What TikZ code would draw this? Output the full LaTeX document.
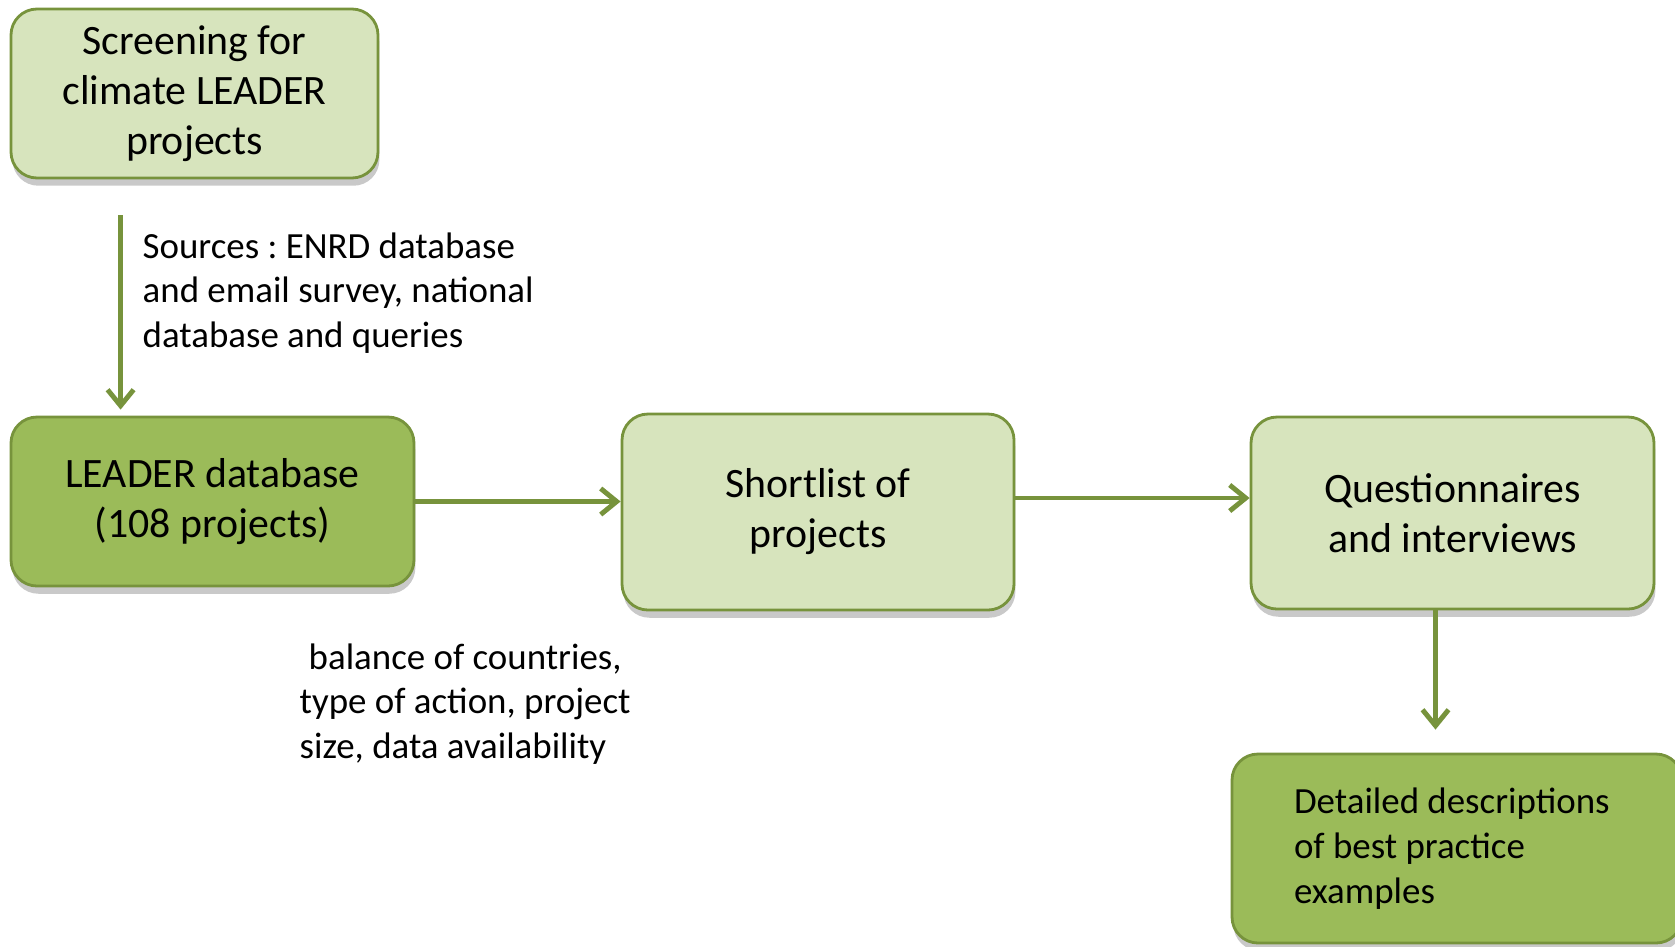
\documentclass[tikz,border=0pt]{standalone}
\usepackage{fontspec}
\setmainfont{Carlito}
\frenchspacing
\usetikzlibrary{arrows.meta,calc,shadows}
\definecolor{palegreen}{HTML}{D7E4BD}
\definecolor{olivegreen}{HTML}{9BBB59}
\definecolor{darkolive}{HTML}{77933C}

\begin{document}
\begin{tikzpicture}[
		box/.style={draw=darkolive, line width=0.8pt, rounded corners=0.26cm, align=center,
			font=\fontsize{11.9}{14.2}\selectfont, inner sep=0pt,
			drop shadow={shadow xshift=0.4pt, shadow yshift=-2.2pt, opacity=0.3, fill=black!70}},
		lightbox/.style={box, fill=palegreen},
		darkbox/.style={box, fill=olivegreen},
		flow/.style={draw=darkolive, line width=1.4pt, -{Straight Barb[length=0.16cm, width=0.26cm, line width=1.4pt]}},
		remark/.style={align=left, inner sep=0pt, font=\fontsize{10.5}{12.75}\selectfont}
	]
			%%%%% START %%%%%
			
			\useasboundingbox (0, 0) rectangle (16.75, -9.46);
			
			\node[lightbox, minimum width=3.67cm, minimum height=1.69cm] (screen) at (1.945, -0.935) {Screening for\\climate LEADER\\projects};
			\node[darkbox, minimum width=4.03cm, minimum height=1.69cm] (leader) at (2.125, -5.015) {LEADER database\\(108 projects)};
			\node[lightbox, minimum width=3.92cm, minimum height=1.96cm] (shortlist) at (8.18, -5.12) {Shortlist of\\projects};
			\node[lightbox, minimum width=4.03cm, minimum height=1.92cm] (quest) at (14.525, -5.13) {Questionnaires\\and interviews};
			\node[darkbox, minimum width=4.5cm, minimum height=1.89cm, inner xsep=0.62cm, text width=3.26cm, align=flush left, font=\fontsize{10.5}{12.75}\selectfont] (detail) at (14.57, -8.485) {Detailed descriptions\\of best practice\\examples};
			
			\node[remark, anchor=west] (sources) at (1.42, -2.93) {Sources : ENRD database\\and email survey, national\\database and queries};
			\node[remark, anchor=west] (criteria) at (2.99, -7.04) {\hspace*{0.09cm}balance of countries,\\type of action, project\\size, data availability};
			
			\coordinate (sfoot) at ($(screen.south west)+(1.11, -0.36)$);
			\coordinate (qfoot) at ($(quest.south)+(-0.17, 0)$);
			
			\draw[flow, shorten >=0.06cm] (sfoot) -- (sfoot |- leader.north);
			\draw[flow] (leader.east) -- (leader.east -| shortlist.west);
			\draw[flow] ([yshift=0.14cm]shortlist.east) -- ([yshift=0.14cm]shortlist.east -| quest.west);
			\draw[flow, shorten >=0.23cm] (qfoot) -- (qfoot |- detail.north);
			
			%%%%% END %%%%%
		\end{tikzpicture}
\end{document}
